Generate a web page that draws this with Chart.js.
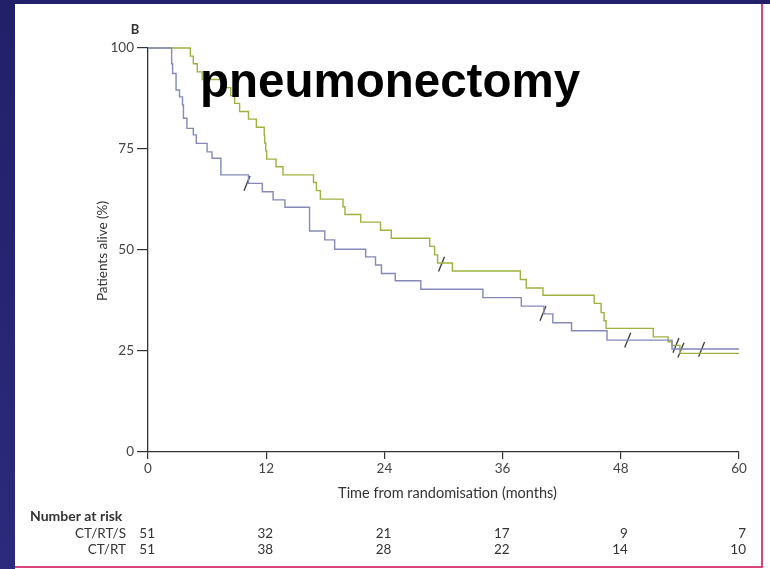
<!DOCTYPE html>
<html>
<head>
<meta charset="utf-8">
<script src="https://cdn.jsdelivr.net/npm/chart.js@4.4.1/dist/chart.umd.min.js"></script>
<style>
  html, body { margin: 0; padding: 0; background: #25236b; }
  #wrap { width: 770px; height: 569px; position: relative; }
  canvas { display: block; }
</style>
</head>
<body>
<div id="wrap"><canvas id="km" width="770" height="569"></canvas></div>
<script>
// Kaplan-Meier survival, months from randomisation (pneumonectomy subgroup)
const xTicks = [0, 12, 24, 36, 48, 60];
const yTicks = [0, 25, 50, 75, 100];

// CT/RT/S arm: event times (months) and survival (%) after each step
const timesCTRTS = [0, 4.3, 4.6, 5.0, 5.5, 7.9, 8.4, 8.8, 9.3, 10.2, 11.0, 11.8, 11.85, 11.95, 12.05,
  13.0, 13.7, 16.8, 17.1, 17.5, 19.8, 20.0, 21.6, 23.6, 24.7, 28.6, 29.1, 29.4, 30.9, 37.8, 38.4,
  40.1, 45.3, 46.0, 46.3, 46.5, 51.3, 52.8, 53.2, 54.0, 60];
const survCTRTS = [100, 98.0, 96.1, 94.1, 92.2, 90.2, 88.2, 86.3, 84.3, 82.4, 80.4, 78.4, 76.5, 74.5, 72.5,
  70.6, 68.6, 66.7, 64.7, 62.6, 60.7, 58.8, 56.9, 54.9, 52.9, 50.9, 48.8, 46.8, 44.8, 42.7, 40.6,
  38.8, 36.8, 34.5, 32.5, 30.6, 28.5, 27.3, 26.4, 24.4, 24.4];

// CT/RT arm
const timesCTRT = [0, 2.4, 2.5, 2.85, 3.2, 3.5, 3.6, 3.95, 4.6, 4.9, 6.0, 6.5, 7.4, 10.2, 11.6, 12.7,
  13.9, 16.4, 17.95, 18.95, 22.1, 23.1, 23.7, 25.1, 27.7, 34.0, 37.9, 40.2, 41.1, 43.0, 46.6, 53.2, 60];
const survCTRT = [100, 96.1, 93.7, 89.6, 87.9, 85.9, 82.6, 80.1, 78.5, 76.4, 74.3, 72.7, 68.6, 66.5, 64.4, 62.4,
  60.6, 54.7, 52.5, 50.2, 48.3, 46.3, 44.2, 42.4, 40.3, 38.2, 36.1, 34.2, 32.0, 30.0, 27.7, 25.5, 25.5];

// censored observations
const censorTimesCTRTS = [29.8, 53.6];
const censorSurvCTRTS = [46.5, 26.4];
const censorTimesCTRT = [10.05, 40.1, 48.7, 54.1, 56.2];
const censorSurvCTRT = [66.5, 34.3, 27.7, 25.2, 25.4];

// number at risk table
const riskGroups = ['CT/RT/S', 'CT/RT'];
const riskCTRTS = [51, 32, 21, 17, 9, 7];
const riskCTRT = [51, 38, 28, 22, 14, 10];

const GREEN = '#9bb33e';
const BLUE = '#8489b9';
const INK = '#333333';
const FONT = 'Lato, "Open Sans", sans-serif';

const toPoints = (xs, ys) => xs.map((x, i) => ({ x: x, y: ys[i] }));

const backdrop = {
  id: 'backdrop',
  beforeDraw(chart) {
    const c = chart.ctx;
    c.save();
    const g = c.createLinearGradient(0, 0, 0, 569);
    g.addColorStop(0, '#23206a');
    g.addColorStop(1, '#2b2a7c');
    c.fillStyle = g;
    c.fillRect(0, 0, 770, 569);
    c.fillStyle = '#ffffff';
    c.fillRect(15, 4, 755, 565);
    c.strokeStyle = '#d8467c';
    c.lineWidth = 2;
    c.beginPath();
    c.moveTo(762, 4);
    c.lineTo(762, 567);
    c.moveTo(15, 567);
    c.lineTo(763, 567);
    c.stroke();
    c.restore();
  }
};

const annotations = {
  id: 'annotations',
  afterDraw(chart) {
    const c = chart.ctx;
    const xs = chart.scales.x;
    const area = chart.chartArea;
    c.save();
    c.fillStyle = INK;

    // panel letter
    c.font = 'bold 13px ' + FONT;
    c.textAlign = 'center';
    c.textBaseline = 'middle';
    c.fillText('B', 135, 30);

    // y-axis title
    c.save();
    c.translate(103, 251);
    c.rotate(-Math.PI / 2);
    c.font = '13.5px ' + FONT;
    c.fillText('Patients alive (%)', 0, 0);
    c.restore();

    // x-axis title
    c.font = '14.5px ' + FONT;
    c.fillText('Time from randomisation (months)', (area.left + area.right) / 2 + 4, 493);

    // number at risk
    c.textAlign = 'left';
    c.font = 'bold 14px ' + FONT;
    c.fillText('Number at risk', 30, 516);
    c.font = '13.5px ' + FONT;
    const rows = [riskCTRTS, riskCTRT];
    const rowY = [534, 550];
    rows.forEach((row, r) => {
      c.textAlign = 'right';
      c.fillText(riskGroups[r], 126, rowY[r]);
      row.forEach((n, i) => {
        c.fillText(String(n), xs.getPixelForValue(xTicks[i]) + 7, rowY[r]);
      });
    });

    // subgroup heading
    c.fillStyle = '#000000';
    c.font = 'bold 47.5px "Liberation Sans", Arial, sans-serif';
    c.textAlign = 'left';
    c.textBaseline = 'alphabetic';
    c.fillText('pneumonectomy', 200, 97);
    c.restore();
  }
};

const censorStyle = {
  showLine: false,
  pointStyle: 'line',
  pointRotation: -68,
  pointRadius: 8,
  pointBorderColor: '#3a3a3a',
  pointBorderWidth: 1.3,
  borderColor: '#3a3a3a',
  clip: false
};

new Chart(document.getElementById('km'), {
  type: 'line',
  data: {
    datasets: [
      {
        label: 'CT/RT',
        data: toPoints(timesCTRT, survCTRT),
        borderColor: BLUE,
        borderWidth: 1.4,
        stepped: 'before',
        pointRadius: 0,
        fill: false,
        clip: false
      },
      {
        label: 'CT/RT/S',
        data: toPoints(timesCTRTS, survCTRTS),
        borderColor: GREEN,
        borderWidth: 1.4,
        stepped: 'before',
        pointRadius: 0,
        fill: false,
        clip: false
      },
      Object.assign({ label: 'CT/RT/S censored', data: toPoints(censorTimesCTRTS, censorSurvCTRTS) }, censorStyle),
      Object.assign({ label: 'CT/RT censored', data: toPoints(censorTimesCTRT, censorSurvCTRT) }, censorStyle)
    ]
  },
  options: {
    responsive: false,
    animation: false,
    devicePixelRatio: 1,
    layout: { padding: { left: 0, top: 48, right: 31, bottom: 67 } },
    plugins: { legend: { display: false }, tooltip: { enabled: false } },
    scales: {
      x: {
        type: 'linear',
        min: 0,
        max: 60,
        afterBuildTicks(scale) { scale.ticks = xTicks.map(v => ({ value: v })); },
        afterFit(scale) { scale.height = 50; },
        ticks: { color: '#444444', font: { family: FONT, size: 13.5 }, padding: 2, maxRotation: 0 },
        grid: { drawOnChartArea: false, drawTicks: true, tickLength: 7, color: '#333333', tickColor: '#333333', lineWidth: 1.2 },
        border: { display: true, color: '#333333', width: 1.3 }
      },
      y: {
        min: 0,
        max: 100,
        afterBuildTicks(scale) { scale.ticks = yTicks.map(v => ({ value: v })); },
        afterFit(scale) { scale.width = 148; },
        ticks: { color: '#444444', font: { family: FONT, size: 13.5 }, padding: 3 },
        grid: { drawOnChartArea: false, drawTicks: true, tickLength: 11, color: '#333333', tickColor: '#333333', lineWidth: 1.2 },
        border: { display: true, color: '#333333', width: 1.3 }
      }
    }
  },
  plugins: [backdrop, annotations]
});
</script>
</body>
</html>
